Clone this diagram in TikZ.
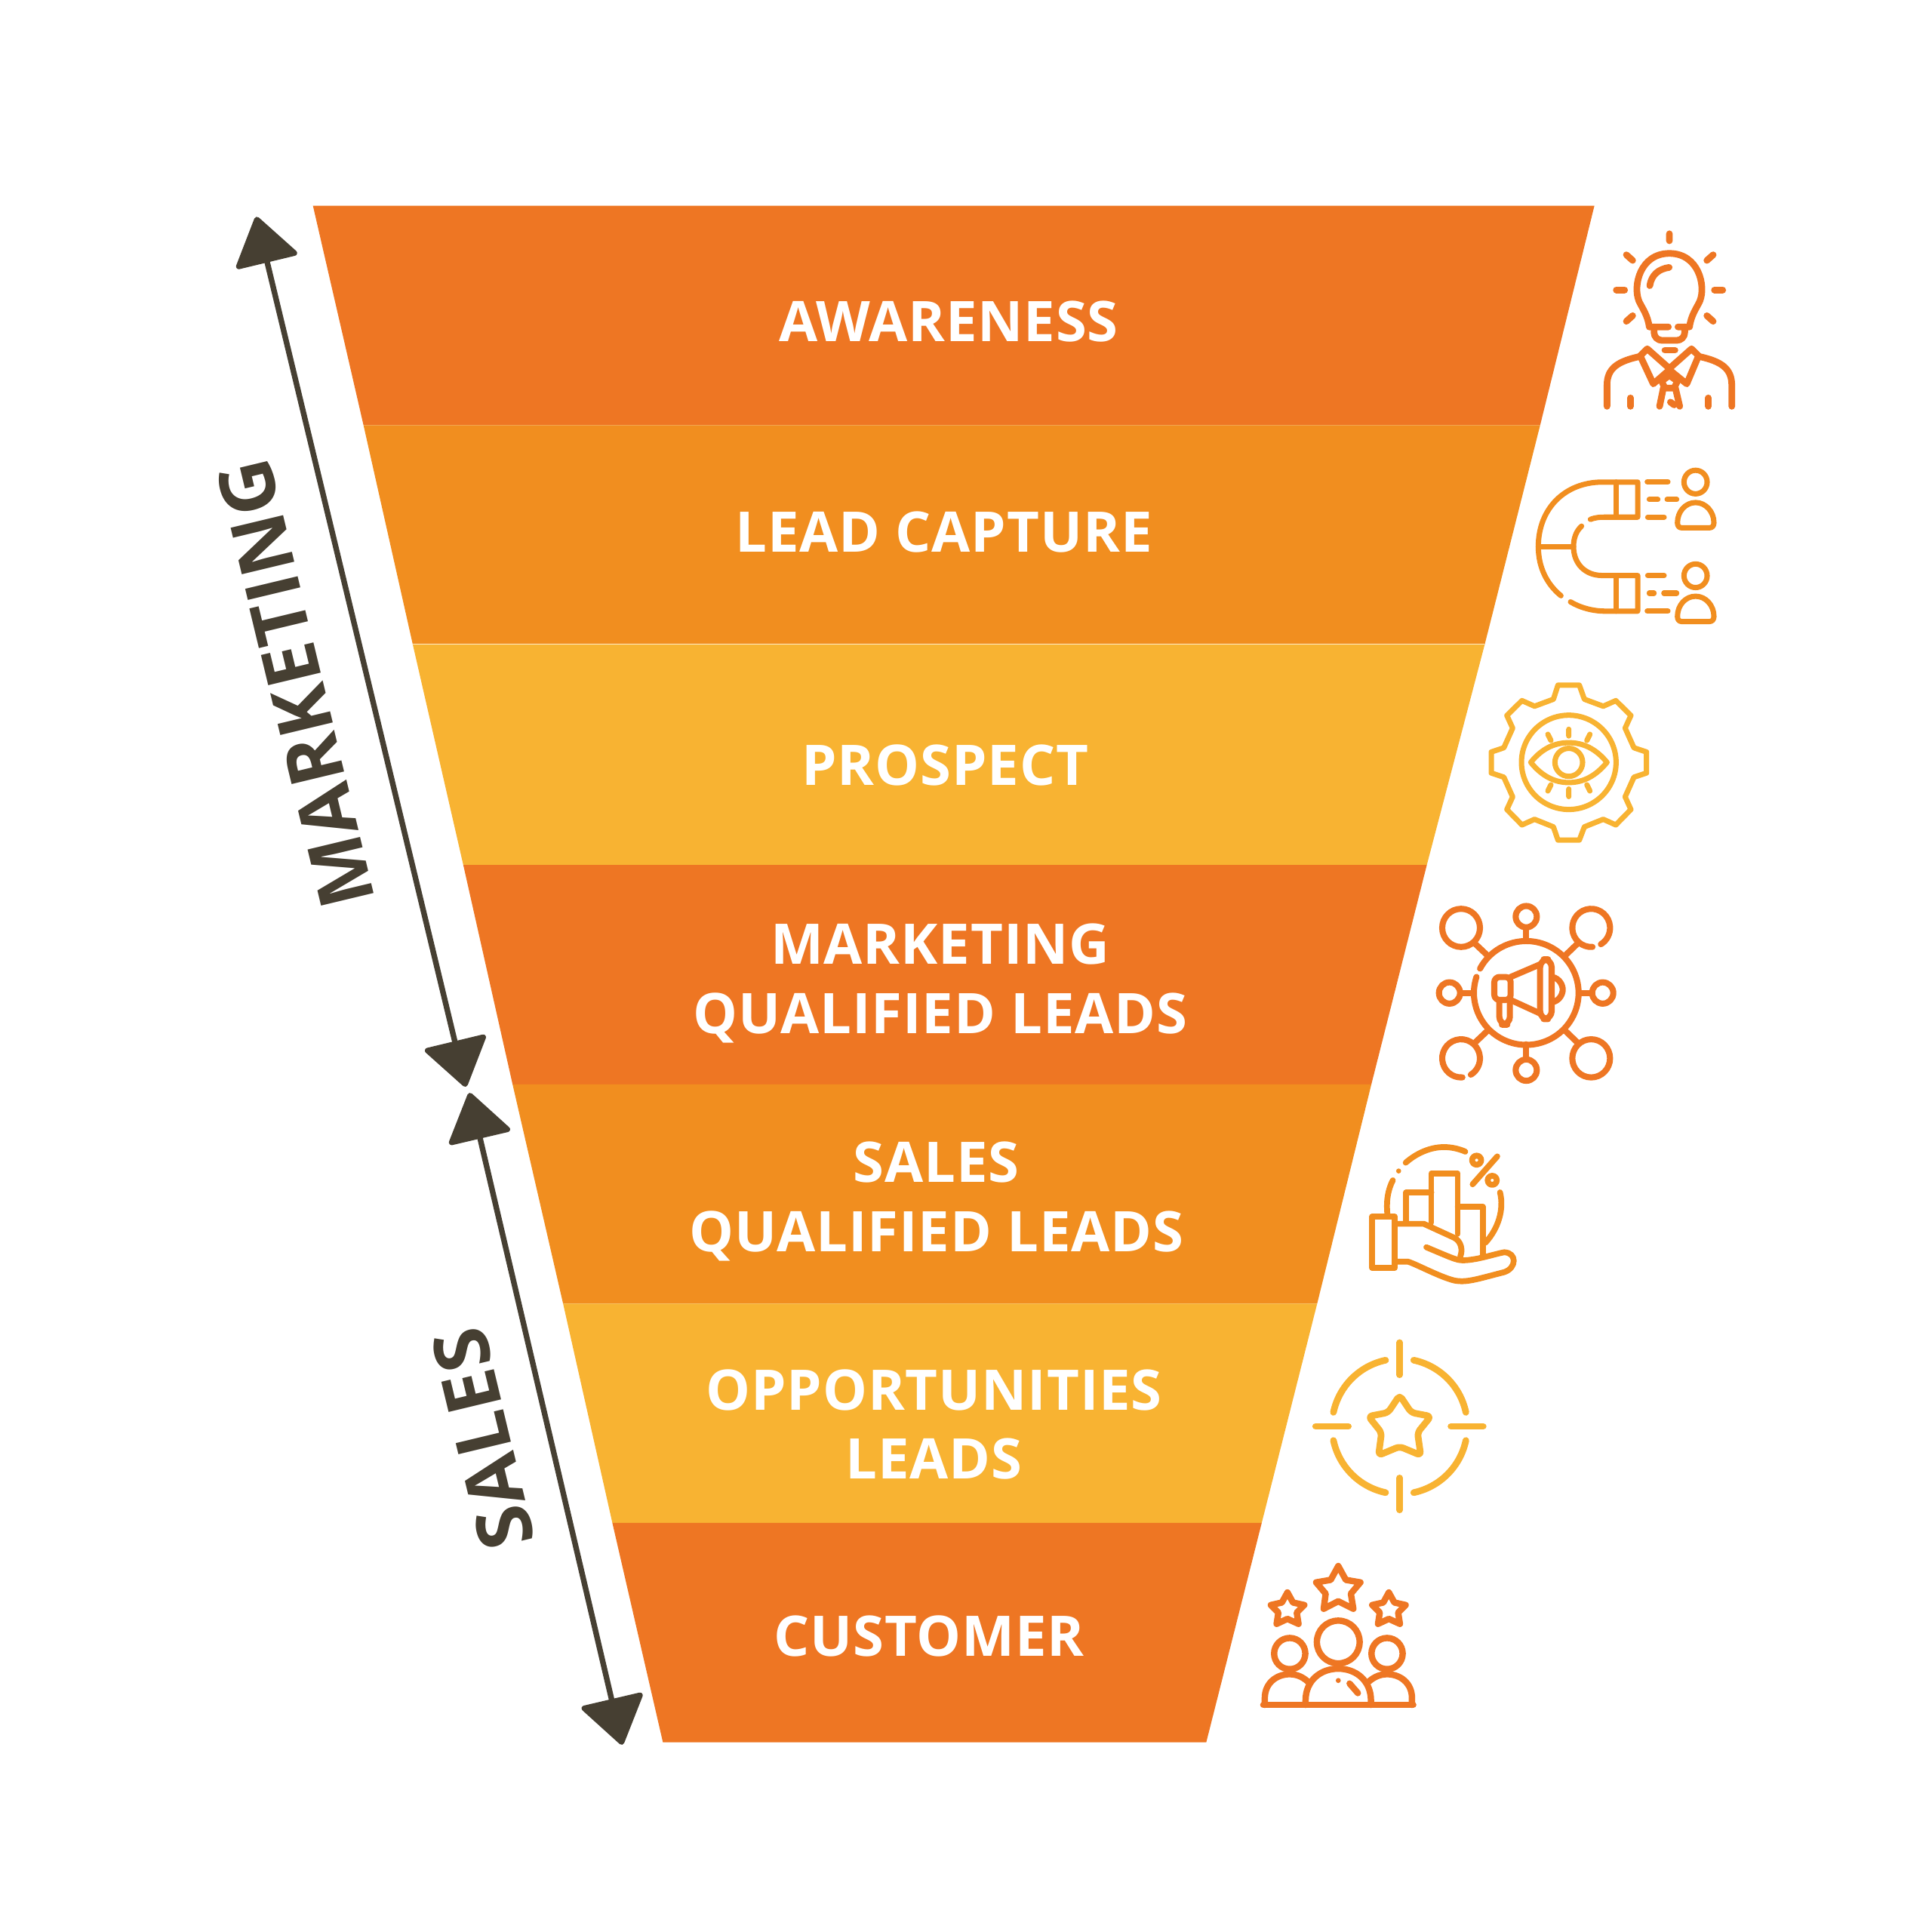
\documentclass[tikz,border=0pt]{standalone}
\usepackage{fontspec}
\setmainfont{Open Sans}
\newfontfamily\bandfont[LetterSpace=1.2]{Open Sans}
\usetikzlibrary{arrows.meta}
\definecolor{dorange}{HTML}{EE7623}
\definecolor{morange}{HTML}{F18E1F}
\definecolor{lorange}{HTML}{F8B332}
\definecolor{umber}{HTML}{463F32}
\tikzset{
    %Define style for the band texts
    bandtext/.style={
		text=white,
		align=center,
		inner sep=0pt,
		font=\bandfont\bfseries\fontsize{21.1}{26}\selectfont},
	sidetext/.style={
		text=umber,
		rotate=103.5,
		inner sep=0pt,
		font=\bandfont\bfseries\fontsize{28.5}{34}\selectfont},
	span/.style={
		draw=umber,
		line width=2.1pt,
		{Triangle[length=.65cm,width=.88cm,round]}-{Triangle[length=.65cm,width=.88cm,round]}},
	icon/.style={
		line cap=round,
		line join=round,
		line width=#1},
	icon/.default=1.8pt
}

\begin{document}
\begin{tikzpicture}[x=0.016327cm,y=-0.016327cm]
	\useasboundingbox (0,0) rectangle (1568,1568);
	%Funnel bands
	\fill[dorange] (254,167) -- (1294,167) -- (1250,345) -- (295,345) -- cycle;
	\fill[morange] (295,345) -- (1250,345) -- (1205,523) -- (335,523) -- cycle;
	\fill[lorange] (335,523) -- (1205,523) -- (1158,702) -- (376,702) -- cycle;
	\fill[dorange] (376,702) -- (1158,702) -- (1113,880) -- (416,880) -- cycle;
	\fill[morange] (416,880) -- (1113,880) -- (1069,1058) -- (457,1058) -- cycle;
	\fill[lorange] (457,1058) -- (1069,1058) -- (1024,1236) -- (497,1236) -- cycle;
	\fill[dorange] (497,1236) -- (1024,1236) -- (979,1414) -- (538,1414) -- cycle;
	\draw[white!75!lorange,line width=.3pt] (335,523) -- (1205,523);
	%Band labels
	\node[bandtext] (awareness) at (770,261) {AWARENESS};
	\node[bandtext] (capture) at (766,432) {LEAD CAPTURE};
	\node[bandtext] (prospect) at (767,621) {PROSPECT};
	\node[bandtext] (mql) at (763,798) {MARKETING\\QUALIFIED LEADS};
	\node[bandtext] (sql) at (760,975) {SALES\\QUALIFIED LEADS};
	\node[bandtext] (opportunities) at (758,1156) {OPPORTUNITIES\\LEADS};
	\node[bandtext] (customer) at (754,1328) {CUSTOMER};
	%Side arrows
	\coordinate (mtop) at (208,176);
	\coordinate (mbottom) at (378,882);
	\coordinate (stop) at (381,887);
	\coordinate (sbottom) at (505,1416);
	\draw[span] (mtop) -- (mbottom);
	\draw[span] (stop) -- (sbottom);
	\node[sidetext] (marketing) at (240,555) {MARKETING};
	\node[sidetext] (sales) at (392,1168) {SALES};
	%Bulb and person
	\begin{scope}[shift={(1225,171.5)},xscale=.2042,yscale=.2277,icon=2.5pt,draw=dorange]
		\draw (632,412) -- (556,412) .. controls (550,370) and (528,345) .. (515,320) .. controls (490,265) and (520,150) .. (636,150) .. controls (752,150) and (782,265) .. (757,320) .. controls (744,345) and (722,370) .. (716,412) -- (670,412);
		\draw[rounded corners=3pt] (575,412) -- (575,460) -- (697,460) -- (697,412);
		\draw (558,265) .. controls (565,225) and (595,205) .. (635,200);
		\draw (636,80) -- (636,105) (465,155) -- (490,175) (810,155) -- (785,175);
		\draw (425,280) -- (458,280) (815,280) -- (848,280);
		\draw (465,392) -- (490,372) (810,392) -- (785,372);
		\draw (618,495) -- (658,495);
		\draw (388,695) -- (388,620) .. controls (388,560) and (430,535) .. (515,518);
		\draw (884,695) -- (884,620) .. controls (884,560) and (842,535) .. (757,518);
		\draw (520,515) -- (548,490) -- (636,560) -- (724,490) -- (752,515) -- (705,615) -- (636,565) -- (572,615) -- cycle;
		\draw (481,665) -- (481,695) (791,665) -- (791,695);
		\draw (605,605) -- (636,585) -- (668,605) -- (655,630) -- (618,630) -- cycle;
		\draw (612,630) -- (597,695) (660,630) -- (677,695) (640,680) -- (655,690);
	\end{scope}
	%Magnet
	\begin{scope}[shift={(1225,171.5)},xscale=.2042,yscale=.2277,icon=2pt,draw=morange]
		\draw (205,1370) .. controls (150,1330) and (115,1270) .. (115,1195) .. controls (115,1060) and (220,965) .. (370,965) -- (510,965) -- (510,1090) -- (380,1090) .. controls (365,1090) and (345,1090) .. (322,1098);
		\draw (243,1392) .. controls (280,1412) and (330,1425) .. (380,1425) -- (510,1425) -- (510,1298) -- (370,1298) .. controls (300,1298) and (255,1255) .. (255,1195) .. controls (255,1165) and (265,1140) .. (287,1122);
		\draw (424,965) -- (424,1090) (424,1298) -- (424,1425) (115,1195) -- (255,1195);
		\draw (548,964) -- (630,964) (556,1027) -- (590,1027) (627,1027) -- (665,1027) (550,1090) -- (615,1090);
		\draw (550,1298) -- (615,1298) (556,1361) -- (575,1361) (614,1361) -- (665,1361) (548,1425) -- (630,1425);
		\foreach \dy in {0,334} {
			\draw (740,965+\dy) ellipse [x radius=46,y radius=42];
			\draw (668,1110+\dy) .. controls (668,1070+\dy) and (700,1038+\dy) .. (740,1038+\dy) .. controls (780,1038+\dy) and (813,1070+\dy) .. (813,1110+\dy) .. controls (813,1122+\dy) and (805,1128+\dy) .. (795,1128+\dy) -- (685,1128+\dy) .. controls (675,1128+\dy) and (668,1122+\dy) .. (668,1110+\dy) -- cycle;
		}
	\end{scope}
	%Gear with eye
	\begin{scope}[shift={(1151.5,539)},xscale=.2042,yscale=.2277,icon=2pt,draw=lorange]
		\draw (553,75) -- (638,75) -- (658,125) -- (733,150) -- (783,130) -- (843,183) -- (820,228) -- (855,298) -- (905,313) -- (905,388) -- (855,403) -- (820,473) -- (843,518) -- (783,573) -- (733,553) -- (658,580) -- (638,627) -- (553,627) -- (535,580) -- (460,553) -- (410,573) -- (350,518) -- (373,473) -- (338,403) -- (288,388) -- (288,313) -- (338,298) -- (373,228) -- (350,183) -- (410,130) -- (460,150) -- (535,125) -- cycle;
		\draw (596,350) ellipse [x radius=188,y radius=168];
		\draw (445,350) .. controls (490,300) and (540,280) .. (596,280) .. controls (652,280) and (702,300) .. (748,350) .. controls (702,400) and (652,422) .. (596,422) .. controls (540,422) and (490,400) .. (445,350) -- cycle;
		\draw (596,350) ellipse [x radius=55,y radius=50];
		\draw (596,232) -- (596,256) (513,250) -- (525,272) (680,250) -- (668,272);
		\draw (596,445) -- (596,472) (525,430) -- (513,452) (668,430) -- (680,452);
	\end{scope}
	%Megaphone network
	\begin{scope}[shift={(1151.5,539)},xscale=.2042,yscale=.2277,icon=2.3pt,draw=dorange]
		\draw (427,1172) ++(208:208 and 185) arc [start angle=208,end angle=558,x radius=208,y radius=185];
		\draw (427,945) -- (427,985) (427,1355) -- (427,1400) (175,1172) -- (210,1172) (645,1172) -- (685,1172);
		\draw (222,995) -- (275,1040) (632,995) -- (580,1040) (222,1350) -- (275,1305) (580,1305) -- (632,1350);
		\draw (427,900) ellipse [x radius=42,y radius=38];
		\draw (427,1447) ellipse [x radius=42,y radius=38];
		\draw (122,1172) ellipse [x radius=42,y radius=38];
		\draw (731,1172) ellipse [x radius=42,y radius=38];
		\draw (168,940) ellipse [x radius=75,y radius=68];
		\draw (685,1405) ellipse [x radius=75,y radius=68];
		\draw (685,940) ++(86:75 and 68) arc [start angle=86,end angle=419,x radius=75,y radius=68];
		\draw (168,1405) ++(86:75 and 68) arc [start angle=86,end angle=419,x radius=75,y radius=68];
		\draw[rounded corners=2pt] (365,1115) -- (300,1115) -- (300,1197) -- (365,1197) -- cycle;
		\draw (365,1115) -- (482,1070) (365,1197) -- (482,1245);
		\draw[rounded corners=3pt] (482,1052) rectangle (528,1265);
		\draw[rounded corners=3pt] (320,1197) -- (320,1285) -- (362,1285) -- (362,1197);
		\draw (530,1115) .. controls (560,1120) and (572,1145) .. (572,1160) .. controls (572,1175) and (560,1200) .. (530,1205);
	\end{scope}
	%Hand with chart
	\begin{scope}[shift={(1090.2,918.7)},scale=.2042,icon=2.2pt,draw=morange]
		\draw (248,122) .. controls (290,85) and (345,60) .. (400,60) .. controls (430,60) and (460,67) .. (485,78);
		\fill[morange] (220,155) circle [radius=10];
		\draw (197,192) .. controls (180,225) and (170,265) .. (175,325);
		\draw (623,240) .. controls (640,310) and (615,385) .. (565,440);
		\draw (115,337) rectangle (205,540);
		\draw (250,355) -- (250,240) -- (350,240) (350,360) -- (350,165) -- (455,165) -- (455,405);
		\draw (455,298) -- (555,298) -- (555,490);
		\draw (205,365) -- (320,365) -- (440,420) .. controls (470,435) and (475,470) .. (465,495);
		\draw (205,515) -- (255,515) .. controls (280,520) and (380,575) .. (440,590) .. controls (490,600) and (530,585) .. (640,557) .. controls (690,540) and (690,480) .. (640,478) .. controls (600,485) and (530,510) .. (475,510) .. controls (450,510) and (430,500) .. (330,458);
		\draw (612,97) -- (514,208);
		\draw (530,112) circle [radius=18] (592,192) circle [radius=18];
	\end{scope}
	%Target with star
	\begin{scope}[shift={(1016.7,1078)},scale=.2042,icon=2.5pt,draw=lorange]
		\draw (584,57) -- (584,185) (584,595) -- (584,722) (250,390) -- (380,390) (788,390) -- (916,390);
		\foreach \a in {12,102,192,282}
			\draw (584,390) ++(\a:269) arc [start angle=\a,delta angle=66,radius=269];
		\draw[rounded corners=1.5pt] (584,266) -- (630,335) -- (708,350) -- (655,415) -- (668,505) -- (584,470) -- (500,505) -- (512,415) -- (460,350) -- (538,335) -- cycle;
	\end{scope}
	%Customers with stars
	\begin{scope}[shift={(1016.7,1078)},scale=.2042,icon=2.4pt,draw=dorange]
		\draw (340,945) -- (370,1000) -- (428,1010) -- (390,1055) -- (400,1115) -- (340,1085) -- (282,1115) -- (290,1055) -- (252,1010) -- (310,1000) -- cycle;
		\foreach \dx in {0,403}
			\draw (138+\dx,1050) -- (160+\dx,1090) -- (205+\dx,1100) -- (175+\dx,1130) -- (182+\dx,1175) -- (138+\dx,1155) -- (95+\dx,1175) -- (102+\dx,1130) -- (72+\dx,1100) -- (116+\dx,1090) -- cycle;
		\draw (340,1247) circle [radius=85] (147,1293) circle [radius=62] (534,1293) circle [radius=62];
		\draw (42,1497) -- (638,1497);
		\draw (210,1497) -- (210,1480) .. controls (210,1400) and (270,1353) .. (340,1353) .. controls (410,1353) and (470,1400) .. (470,1480) -- (470,1497);
		\draw (48,1497) -- (48,1470) .. controls (48,1410) and (95,1375) .. (147,1375) .. controls (180,1375) and (205,1390) .. (225,1410);
		\draw (633,1497) -- (633,1470) .. controls (633,1410) and (586,1375) .. (534,1375) .. controls (501,1375) and (476,1390) .. (455,1410);
		\fill[dorange] (340,1400) circle [radius=10];
		\draw (385,1412) -- (418,1450);
	\end{scope}
\end{tikzpicture}
\end{document}
